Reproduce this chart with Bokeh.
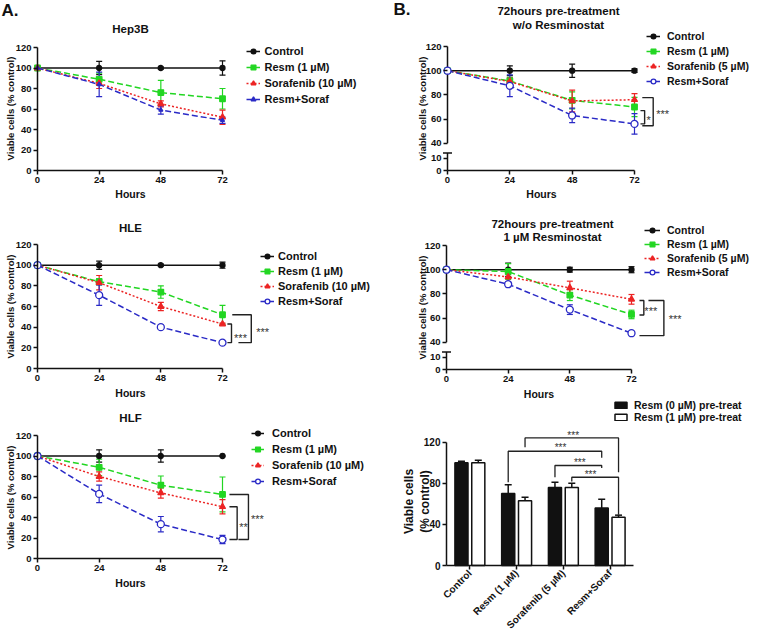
import math
from bokeh.plotting import figure
from bokeh.layouts import row, column
from bokeh.models import (Range1d, FixedTicker, Whisker, TeeHead, Legend,
                          LegendItem, Label, ColumnDataSource)
from bokeh.embed import file_html
from bokeh.resources import INLINE

FONT = "Liberation Sans"
GREEN = "#22d622"
RED = "#ec2424"
BLUE = "#2a2ac6"
BLACK = "#111111"

# ---------------- data ----------------
hours = [0, 24, 48, 72]
names_A = ["Control", "Resm (1 µM)", "Sorafenib (10 µM)", "Resm+Soraf"]
names_B = ["Control", "Resm (1 µM)", "Sorafenib (5 µM)", "Resm+Soraf"]

hep3b_ctrl = [100, 100, 100, 100]
hep3b_ctrl_err = [0, 6.5, 1, 7]
hep3b_resm = [100, 89, 76, 70]
hep3b_resm_err = [0, 6, 12, 10]
hep3b_sora = [100, 85, 65, 52]
hep3b_sora_err = [0, 5, 3, 7]
hep3b_comb = [100, 84, 59, 49]
hep3b_comb_err = [0, 12, 4, 3]

hle_ctrl = [100, 100, 100, 100]
hle_ctrl_err = [0, 4, 1, 3]
hle_resm = [100, 84, 74, 52]
hle_resm_err = [0, 3, 6, 9]
hle_sora = [100, 83, 60, 43]
hle_sora_err = [0, 7, 4, 1]
hle_comb = [100, 71, 40, 25]
hle_comb_err = [0, 10, 2, 1]

hlf_ctrl = [100, 100, 100, 100]
hlf_ctrl_err = [0, 6, 6, 0]
hlf_resm = [100, 89, 71.5, 62.5]
hlf_resm_err = [0, 8, 9, 17]
hlf_sora = [100, 80, 64, 50.5]
hlf_sora_err = [0, 4.5, 5, 7]
hlf_comb = [100, 63, 33.5, 18.5]
hlf_comb_err = [0, 8.5, 7.5, 4]

wo_ctrl = [100, 100, 100, 100]
wo_ctrl_err = [0, 4, 5.5, 1.5]
wo_resm = [100, 91.5, 75.5, 70]
wo_resm_err = [0, 3, 7, 8]
wo_sora = [100, 91, 75, 76]
wo_sora_err = [0, 3, 9, 5]
wo_comb = [100, 87.5, 63, 56]
wo_comb_err = [0, 9, 6, 8.5]

pre_ctrl = [100, 100, 100, 100]
pre_ctrl_err = [0, 5.5, 2, 2.5]
pre_resm = [100, 98.5, 79, 63]
pre_resm_err = [0, 6.5, 4.5, 3.5]
pre_sora = [100, 94, 85, 75.5]
pre_sora_err = [0, 6, 5.5, 4]
pre_comb = [100, 88, 67, 47.5]
pre_comb_err = [0, 2, 4, 1.5]

bar_cats = ["Control", "Resm (1 µM)", "Sorafenib (5 µM)", "Resm+Soraf"]
bar_pre0 = [100, 70, 76, 56]
bar_pre0_err = [1.5, 8.5, 5, 8.5]
bar_pre1 = [100, 63, 76, 47]
bar_pre1_err = [2.5, 3.5, 4, 2]
bar_names = ["Resm (0 µM) pre-treat", "Resm (1 µM) pre-treat"]


# ---------------- helpers ----------------
class Panel:
    """A figure whose frame fills the whole canvas; axes are fixed at the data origin."""

    def __init__(self, box, cal):
        self.fx0, self.fx1, self.fy0, self.fy1 = box
        self.ax0, self.kx, self.ay0, self.ky = cal
        W, H = self.fx1 - self.fx0, self.fy1 - self.fy0
        self.p = figure(frame_width=W, frame_height=H, min_border=0,
                        x_range=Range1d(self.dx(self.fx0), self.dx(self.fx1)),
                        y_range=Range1d(self.dy(self.fy1), self.dy(self.fy0)),
                        output_backend="svg", toolbar_location=None)
        p = self.p
        p.outline_line_color = None
        p.xgrid.visible = False
        p.ygrid.visible = False
        p.xaxis.fixed_location = 0
        p.yaxis.fixed_location = 0

    def dx(self, rx):
        return (rx - self.ax0) / self.kx

    def dy(self, ry):
        return (self.ay0 - ry) / self.ky

    def text(self, rx, ry, t, size, bold=True, align="center", color=BLACK, angle=0.0):
        self.p.add_layout(Label(x=self.dx(rx), y=self.dy(ry), text=t, text_font=FONT,
                                text_font_size=size,
                                text_font_style="bold" if bold else "normal",
                                text_align=align, text_baseline="middle",
                                text_color=color, angle=angle))

    def legend_loc(self, rx, ry_top, height):
        # Bokeh places a legend by its bottom-left corner, measured from the frame's bottom-left
        return (rx - self.fx0, self.fy1 - ry_top - height)


def style_axis(ax, tick_size):
    ax.axis_line_width = 1.5
    ax.axis_line_color = BLACK
    ax.major_tick_line_width = 1.5
    ax.major_tick_line_color = BLACK
    ax.major_tick_out = 4
    ax.major_tick_in = 0
    ax.minor_tick_line_color = None
    ax.major_label_text_font = FONT
    ax.major_label_text_font_style = "bold"
    ax.major_label_text_font_size = tick_size
    ax.major_label_text_color = BLACK
    ax.major_label_standoff = 2


def brk(v, broken):
    if not broken:
        return v
    return v if v <= 10 else v - 40 + 22.5


def line_panel(box, cal, names, vals, errs, markers, broken, cfg):
    P = Panel(box, cal)
    p = P.p
    style_axis(p.xaxis[0], "9.5px")
    style_axis(p.yaxis[0], "9.5px")
    p.xaxis[0].ticker = FixedTicker(ticks=hours)
    p.xaxis[0].bounds = (0, 72)
    if broken:
        tv = [0, 10, 40, 60, 80, 100, 120]
        p.yaxis[0].ticker = FixedTicker(ticks=[brk(t, True) for t in tv])
        p.yaxis[0].major_label_overrides = {brk(t, True): str(t) for t in tv}
        p.yaxis[0].bounds = (0, brk(120, True))
        p.yaxis[0].axis_line_color = None
        bx = 4.5 / P.kx
        p.segment(x0=[0, 0, -bx], y0=[0, brk(40, True), 14.5],
                  x1=[0, 0, bx], y1=[14.5, brk(120, True), 14.5],
                  line_color=BLACK, line_width=1.5)
    else:
        p.yaxis[0].ticker = FixedTicker(ticks=[0, 20, 40, 60, 80, 100, 120])
        p.yaxis[0].bounds = (0, 120)

    colors = [BLACK, GREEN, RED, BLUE]
    dashes = ["solid", "6 3", "2 2", "6 3"]
    items = []
    for name, v, e, col, dash, mk in zip(names, vals, errs, colors, dashes, markers):
        src = ColumnDataSource(dict(
            x=hours,
            y=[brk(a, broken) for a in v],
            up=[brk(a + b, broken) for a, b in zip(v, e)],
            lo=[brk(a - b, broken) for a, b in zip(v, e)],
        ))
        p.add_layout(Whisker(source=src, base="x", upper="up", lower="lo", line_color=col,
                             line_width=1.2,
                             upper_head=TeeHead(size=6, line_color=col, line_width=1.2),
                             lower_head=TeeHead(size=6, line_color=col, line_width=1.2)))
        rl = p.line("x", "y", source=src, line_color=col, line_width=1.5, line_dash=dash)
        rs = p.scatter("x", "y", source=src, marker=mk[0], size=mk[1], fill_color=mk[2],
                       line_color=col, line_width=1.3)
        items.append(LegendItem(label=name, renderers=[rl, rs]))

    lg = cfg["legend"]
    LH = 12
    leg_h = len(items) * LH + (len(items) - 1) * lg["sp"]
    leg = Legend(items=items, location=P.legend_loc(lg["x"], lg["top"], leg_h),
                 label_text_font=FONT, label_text_font_style="bold",
                 label_text_font_size=lg.get("fs", "11px"),
                 label_text_color=BLACK,
                 glyph_width=lg["gw"], glyph_height=LH, label_height=LH,
                 spacing=lg["sp"], padding=0, margin=0,
                 label_standoff=lg["ls"], border_line_alpha=0, background_fill_alpha=0)
    p.add_layout(leg)

    for rx, ry, t in cfg["titles"]:
        P.text(rx, ry, t, "11.5px")
    lx, ly = cfg["ylabel"]
    P.text(lx, ly, "Viable cells (% control)", "9.5px", angle=math.pi / 2)
    hx, hy = cfg["xlabel"]
    P.text(hx, hy, "Hours", "10.5px")

    xs, ys = [], []
    for xtl, xv, xbl, yt, yb in cfg.get("brackets", []):
        yt2, yb2 = brk(yt, broken), brk(yb, broken)
        xs.append([xtl, xv, xv, xbl])
        ys.append([yt2, yt2, yb2, yb2])
    if xs:
        p.multi_line(xs=xs, ys=ys, line_color="#222222", line_width=1.4)
    for t, sx, sy in cfg.get("stars", []):
        p.add_layout(Label(x=sx, y=brk(sy, broken) - 2.5 / P.ky, text=t, text_font=FONT,
                           text_font_size="11px", text_align="center",
                           text_baseline="middle", text_color="#333333"))
    if "letter" in cfg:
        lx, ly, lt = cfg["letter"]
        P.text(lx, ly, lt, "17px", align="left")
    return p


std_markers = [("circle", 5, BLACK), ("square", 5.5, GREEN), ("triangle", 6, RED), ("circle", 7, "white")]
hep_markers = [("circle", 5, BLACK), ("square", 5.5, GREEN), ("triangle", 6, RED), ("triangle", 4, BLUE)]

XA0, XA1, XB0, XB1 = 0, 390, 390, 756
ROW1, ROW2, ROW3, ROW4 = 0, 208, 398, 633

pA1 = line_panel((XA0, XA1, ROW1, ROW2), (37, 185 / 72, 170, 123 / 120), names_A,
                 [hep3b_ctrl, hep3b_resm, hep3b_sora, hep3b_comb],
                 [hep3b_ctrl_err, hep3b_resm_err, hep3b_sora_err, hep3b_comb_err],
                 hep_markers, False,
                 dict(titles=[(130, 28, "Hep3B")], ylabel=(10, 108), xlabel=(130, 193),
                      legend=dict(x=245.5, top=45, gw=14, sp=4, ls=5),
                      letter=(1, 10, "A.")))

pA2 = line_panel((XA0, XA1, ROW2, ROW3), (37, 185 / 72, 368, 124 / 120), names_A,
                 [hle_ctrl, hle_resm, hle_sora, hle_comb],
                 [hle_ctrl_err, hle_resm_err, hle_sora_err, hle_comb_err],
                 std_markers, False,
                 dict(titles=[(130, 227, "HLE")], ylabel=(10, 306), xlabel=(130, 392),
                      legend=dict(x=260, top=250, gw=14, sp=3, ls=4),
                      brackets=[(73.9, 75.5, 73.9, hle_sora[-1], hle_comb[-1]),
                                (75.8, 83.2, 78.2, hle_resm[-1], hle_comb[-1])],
                      stars=[("***", 79, 32.2), ("***", 87.6, 37.8)]))

pA3 = line_panel((XA0, XA1, ROW3, ROW4), (37, 185 / 72, 558, 123 / 120), names_A,
                 [hlf_ctrl, hlf_resm, hlf_sora, hlf_comb],
                 [hlf_ctrl_err, hlf_resm_err, hlf_sora_err, hlf_comb_err],
                 std_markers, False,
                 dict(titles=[(130, 417, "HLF")], ylabel=(10, 497), xlabel=(130, 582),
                      legend=dict(x=251, top=427, gw=13, sp=4, ls=8),
                      brackets=[(74.7, 77.7, 74.7, hlf_sora[-1], hlf_comb[-1]),
                                (74.7, 82.1, 78.2, hlf_resm[-1], hlf_comb[-1])],
                      stars=[("**", 80.2, 33.5), ("***", 85.6, 41)]))

pB1 = line_panel((XB0, XB1, ROW1, ROW2), (447, 187 / 72, 170, 124 / 102.5), names_B,
                 [wo_ctrl, wo_resm, wo_sora, wo_comb],
                 [wo_ctrl_err, wo_resm_err, wo_sora_err, wo_comb_err],
                 std_markers, True,
                 dict(titles=[(558, 10, "72hours pre-treatment"), (558, 24, "w/o Resminostat")],
                      ylabel=(422, 108), xlabel=(541, 193),
                      legend=dict(x=646, top=30, gw=14, sp=3, ls=7, fs="10.5px"),
                      brackets=[(74.3, 75.9, 74.3, 67, wo_comb[-1]),
                                (75.0, 79.2, 75.0, 77.7, wo_comb[-1] - 1.5)],
                      stars=[("*", 77.4, 61), ("***", 82.8, 66.4)],
                      letter=(393, 9, "B.")))

pB2 = line_panel((XB0, XB1, ROW2, ROW3), (446, 185 / 72, 369, 124 / 102.5), names_B,
                 [pre_ctrl, pre_resm, pre_sora, pre_comb],
                 [pre_ctrl_err, pre_resm_err, pre_sora_err, pre_comb_err],
                 std_markers, True,
                 dict(titles=[(552, 223, "72hours pre-treatment"), (552, 236, "1 µM Resminostat")],
                      ylabel=(422, 307), xlabel=(538.5, 393),
                      legend=dict(x=644, top=224, gw=16, sp=2, ls=7, fs="10.5px"),
                      brackets=[(75.1, 76.8, 75.1, 74.5, pre_resm[-1] - 0.5),
                                (78.6, 84.6, 75.1, 74.5, pre_comb[-1] - 2)],
                      stars=[("***", 79.5, 68), ("***", 89, 61.5)]))

# ---------------- bar chart ----------------
PB = Panel((XB0, XB1, ROW3, ROW4), (446, 187 / 4, 565, 123.3 / 120))
pB3 = PB.p
style_axis(pB3.xaxis[0], "10px")
style_axis(pB3.yaxis[0], "10px")
pB3.yaxis[0].ticker = FixedTicker(ticks=[0, 40, 80, 120])
pB3.yaxis[0].bounds = (0, 120)
cat_pos = [i + 0.5 for i in range(len(bar_cats))]
pB3.xaxis[0].ticker = FixedTicker(ticks=cat_pos)
pB3.xaxis[0].major_label_overrides = {c: n for c, n in zip(cat_pos, bar_cats)}
pB3.xaxis[0].bounds = (0, len(bar_cats))
pB3.xaxis[0].major_label_orientation = math.pi / 4

OFF, BW = 0.18, 0.28
xb = [c - OFF for c in cat_pos]
xw = [c + OFF for c in cat_pos]
srcb = ColumnDataSource(dict(x=xb, top=bar_pre0, up=[a + b for a, b in zip(bar_pre0, bar_pre0_err)]))
srcw = ColumnDataSource(dict(x=xw, top=bar_pre1, up=[a + b for a, b in zip(bar_pre1, bar_pre1_err)]))
for src in (srcb, srcw):
    pB3.add_layout(Whisker(source=src, base="x", upper="up", lower="top", line_color=BLACK,
                           line_width=1.5, lower_head=None,
                           upper_head=TeeHead(size=7, line_color=BLACK, line_width=1.5)))
rb = pB3.vbar(x="x", top="top", width=BW, source=srcb, fill_color=BLACK, line_color=BLACK, line_width=1.5)
rw = pB3.vbar(x="x", top="top", width=BW, source=srcw, fill_color="white", line_color=BLACK, line_width=1.5)

# significance brackets: (x_left, x_right, y_top, y_left_end, y_right_end)
bar_brackets = [
    (xw[1], xw[3], 124.2, 115.0, 90.8),
    (xb[1], xb[3], 111.2, 81.0, 104.8),
    (xb[2], xb[3], 97.3, 86.0, 95.0),
    (xw[2], xw[3], 85.9, 81.7, 49.3),
]
pB3.multi_line(xs=[[a, a, b, b] for a, b, _, _, _ in bar_brackets],
               ys=[[yl, yt, yt, yr] for _, _, yt, yl, yr in bar_brackets],
               line_color="#222222", line_width=1.3)
for sx, sy in [(2.71, 129.1), (2.44, 117.4), (2.85, 102.8), (3.08, 90.8)]:
    pB3.add_layout(Label(x=sx, y=sy - 2.4, text="***", text_font=FONT, text_font_size="10px",
                         text_align="center", text_baseline="middle", text_color="#333333"))

PB.text(408, 501, "Viable cells", "12px", angle=math.pi / 2)
PB.text(424, 501, "(% control)", "12px", angle=math.pi / 2)

legB3 = Legend(items=[LegendItem(label=bar_names[0], renderers=[rb]),
                      LegendItem(label=bar_names[1], renderers=[rw])],
               location=PB.legend_loc(613, 400.5, 22), label_text_font=FONT,
               label_text_font_style="bold",
               label_text_font_size="10.5px", label_text_color=BLACK,
               glyph_width=15, glyph_height=8, label_height=11, spacing=0, padding=0, margin=0,
               label_standoff=6, border_line_alpha=0, background_fill_alpha=0)
pB3.add_layout(legB3)

layout = column(row(pA1, pB1), row(pA2, pB2), row(pA3, pB3))
open("out.html", "w").write(file_html(layout, INLINE))
